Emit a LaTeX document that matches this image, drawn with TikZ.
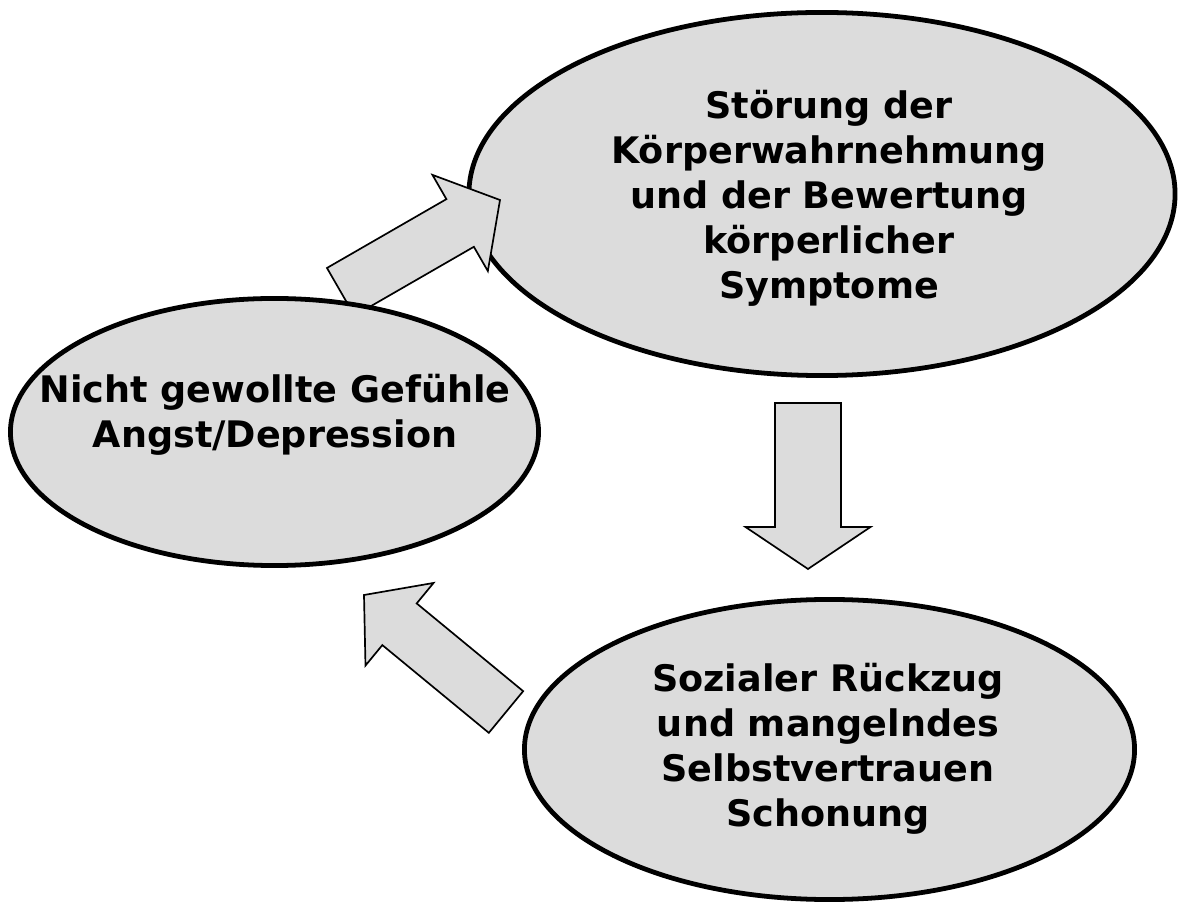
\documentclass[tikz,border=0pt]{standalone}
\usepackage{fontspec}
\setmainfont{DejaVu Sans}
\usetikzlibrary{shapes.geometric,calc}
\definecolor{lightfill}{RGB}{220,220,220}

\newcommand{\blockarrow}[5]{%
	\coordinate (hb) at ($(#2)!#5!(#1)$);
	\draw[arrowbody] ($(#1)!#3!90:(#2)$) -- ($(hb)!#3!90:(#2)$) -- ($(hb)!#4!90:(#2)$) -- (#2)
		-- ($(hb)!#4!-90:(#2)$) -- ($(hb)!#3!-90:(#2)$) -- ($(#1)!#3!-90:(#2)$) -- cycle;
}

\begin{document}
\begin{tikzpicture}[x=0.025cm, y=-0.025cm,
	blob/.style={ellipse, draw, line width=3.4pt, fill=lightfill, inner sep=0pt},
	arrowbody/.style={draw, line width=1.2pt, fill=lightfill},
	blobtext/.style={align=center, font=\bfseries\fontsize{26}{32}\selectfont}]
\useasboundingbox (0,0) rectangle (1180,905);

\node[blob, minimum width=17.65cm, minimum height=9.075cm] (stoerung) at (822,194) {};
\node[blob, minimum width=15.25cm, minimum height=7.5cm] (rueckzug) at (829.5,749.5) {};

\coordinate (a1s) at (340.7,291.8);
\coordinate (a1e) at (500,200);
\coordinate (a2s) at (808,403);
\coordinate (a2e) at (808,569);
\coordinate (a3s) at (506,712);
\coordinate (a3e) at (364,595);

\blockarrow{a1s}{a1e}{0.6875cm}{1.3875cm}{1.15cm}
\blockarrow{a2s}{a2e}{0.825cm}{1.5625cm}{1.05cm}
\blockarrow{a3s}{a3e}{0.675cm}{1.3375cm}{1.15cm}

\node[blob, minimum width=13.2cm, minimum height=6.675cm] (gefuehle) at (274.5,432) {};

\node[blobtext] (stoerungtext) at (829,198.5) {Störung der\\Körperwahrnehmung\\und der Bewertung\\körperlicher\\Symptome};
\node[blobtext] (gefuehletext) at (275,415) {Nicht gewollte Gefühle\\Angst/Depression};
\node[blobtext] (rueckzugtext) at (828,749) {Sozialer Rückzug\\und mangelndes\\Selbstvertrauen\\Schonung};
\end{tikzpicture}
\end{document}
